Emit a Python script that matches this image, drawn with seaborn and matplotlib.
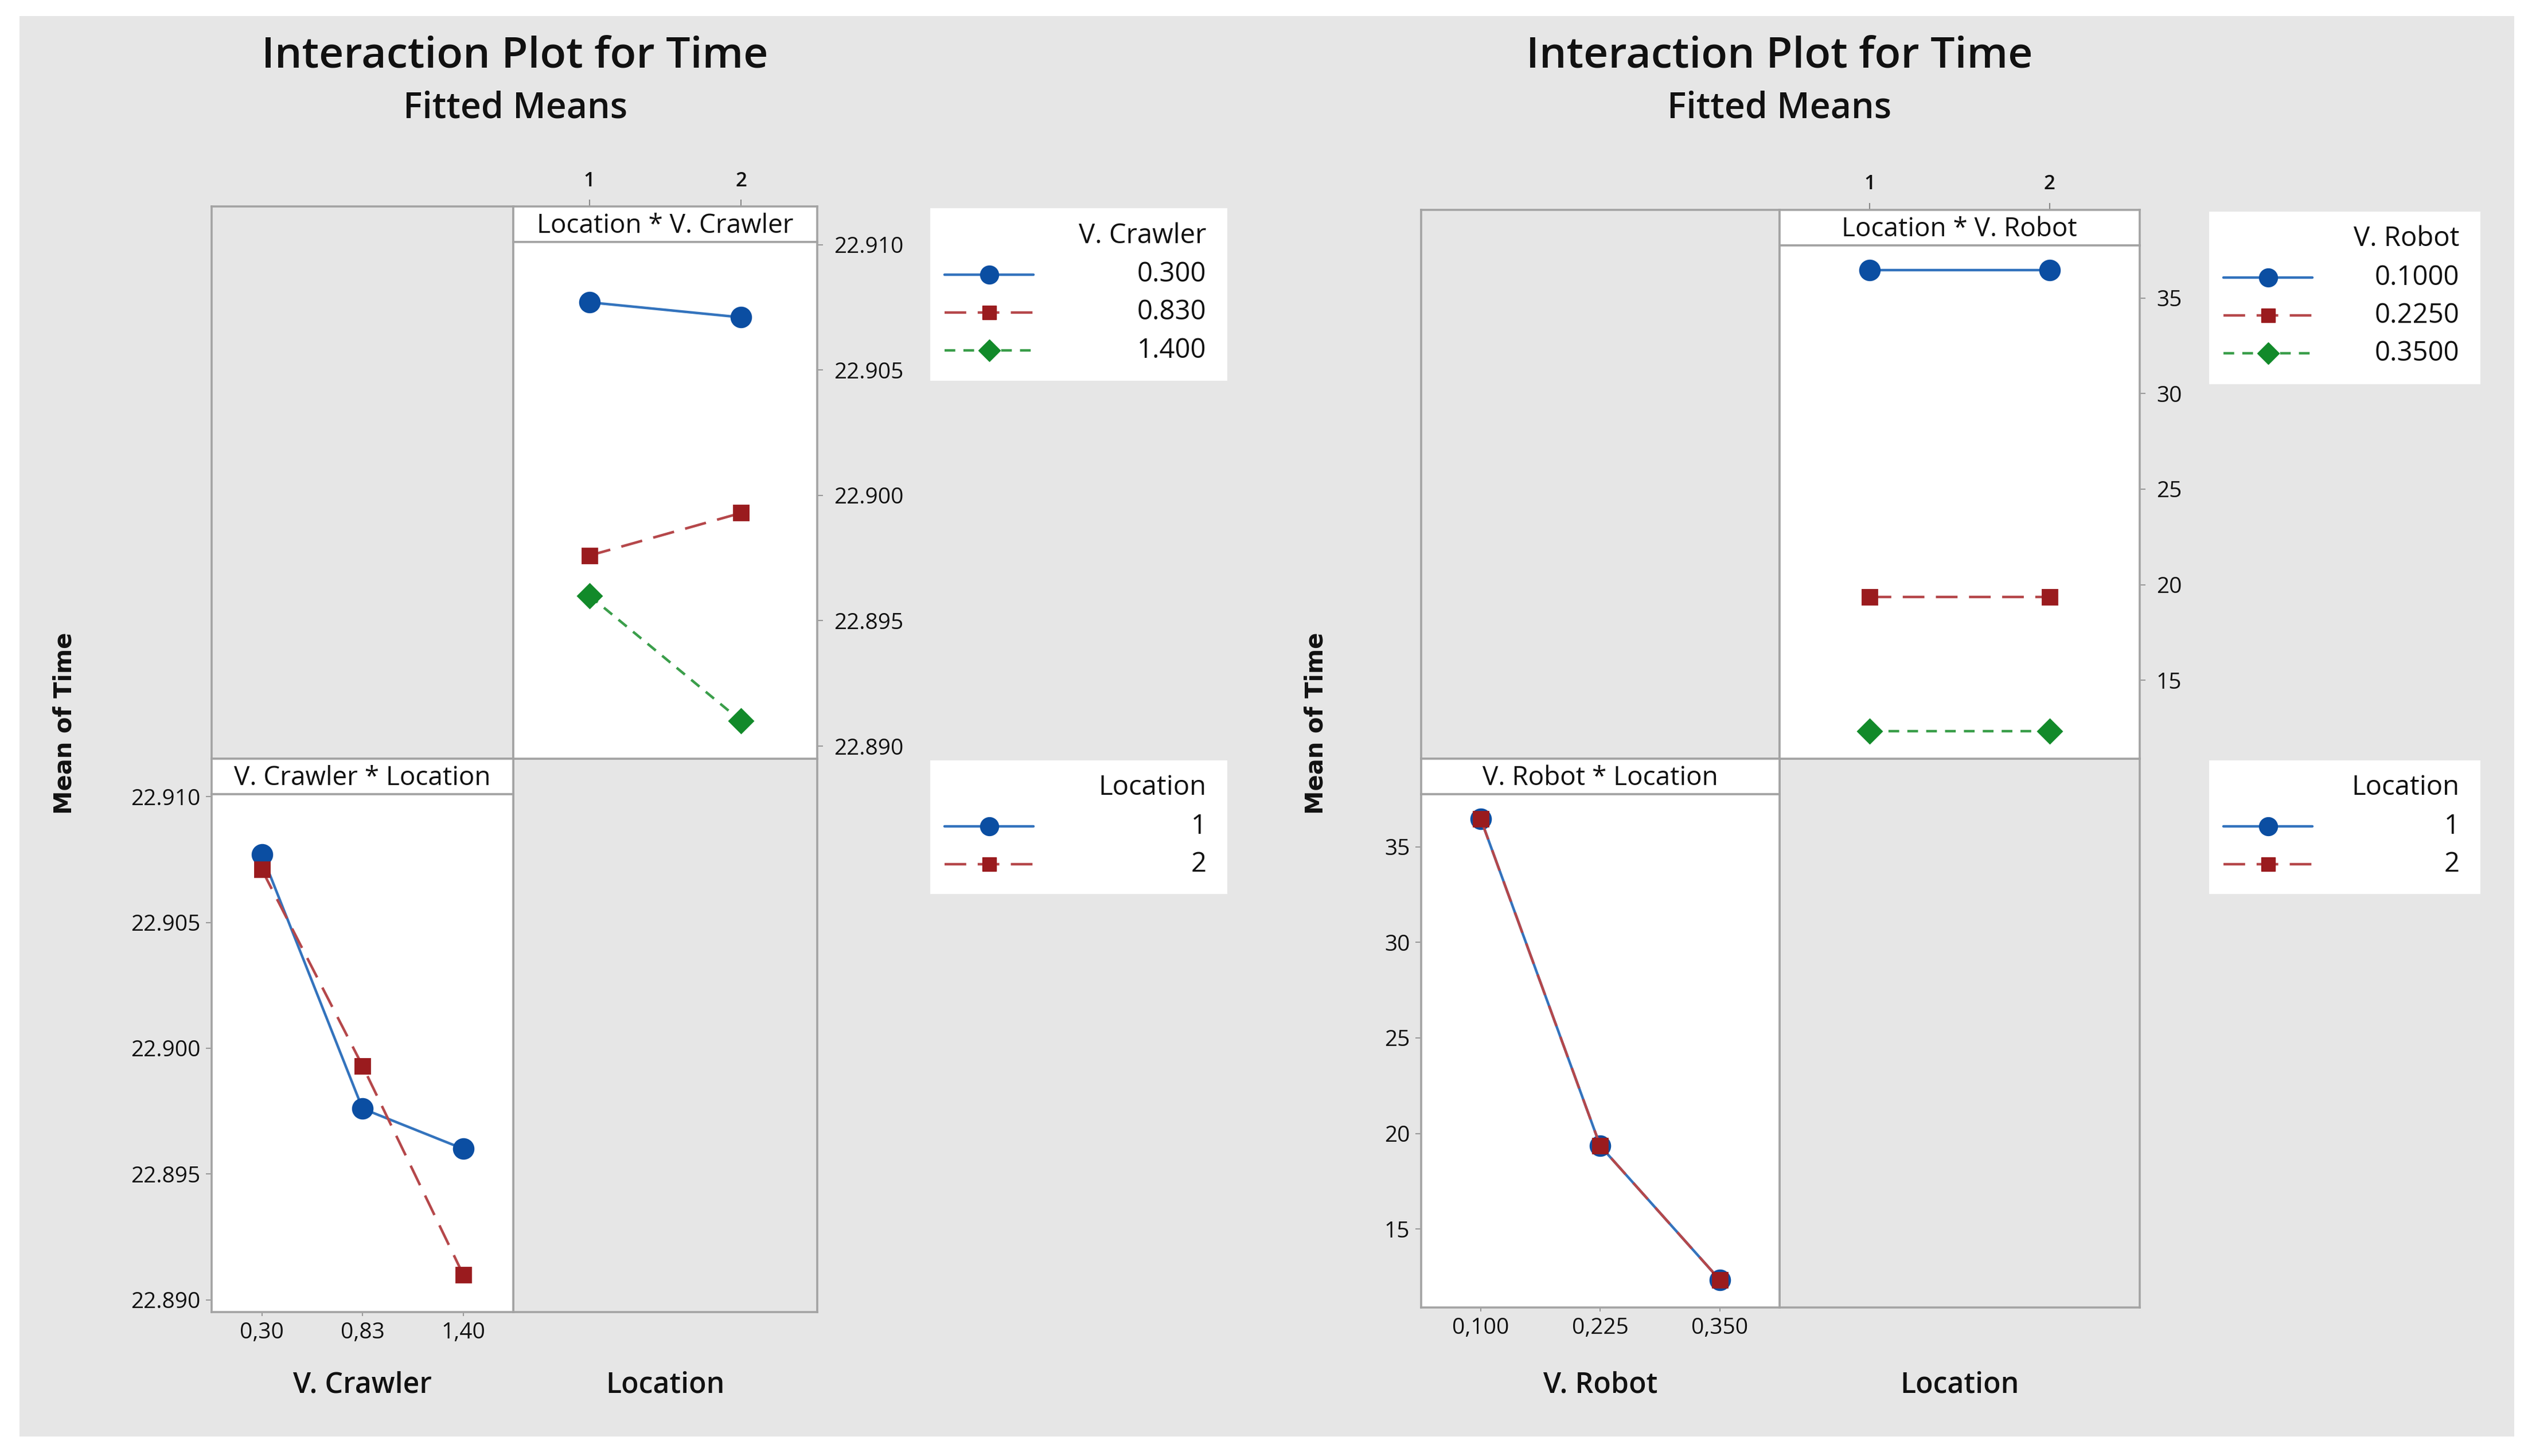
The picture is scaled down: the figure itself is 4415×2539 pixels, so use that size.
import numpy as np
import pandas as pd
import matplotlib
matplotlib.use("Agg")
import matplotlib.pyplot as plt
import seaborn as sns
from matplotlib.patches import Rectangle
from matplotlib.lines import Line2D

# ---------------- data ----------------
location_levels = ["1", "2"]

crawler_tick_labels = ["0,30", "0,83", "1,40"]
crawler_legend_labels = ["0.300", "0.830", "1.400"]
crawler_time_loc1 = [22.9077, 22.8976, 22.8960]
crawler_time_loc2 = [22.9071, 22.8993, 22.8910]
crawler_yticks = [22.890, 22.895, 22.900, 22.905, 22.910]

robot_tick_labels = ["0,100", "0,225", "0,350"]
robot_legend_labels = ["0.1000", "0.2250", "0.3500"]
robot_time_loc1 = [36.45, 19.35, 12.35]
robot_time_loc2 = [36.45, 19.35, 12.35]
robot_yticks = [15, 20, 25, 30, 35]

# ---------------- style ----------------
sns.set_theme(style="white")
plt.rcParams['font.family'] = ['Open Sans', 'DejaVu Sans']

W, H = 1568.0, 902.0
BG = '#E6E6E6'
EDGE = '#A3A3A3'
TXT = '#111111'
TITLE_FS, SUB_FS, STRIP_FS, TICK_FS, LEG_FS, AXLAB_FS, MEAN_FS = 54, 45, 33, 28, 34, 36, 30

LINE_COLORS = {'o': '#3373BD', 's': '#B5474A', 'D': '#3A9E4A'}
MARKER_COLORS = {'o': '#0B4EA2', 's': '#9A1B1E', 'D': '#128A2A'}
DASHES = {'o': None, 's': (8.5, 4.5), 'D': (4.2, 3.2)}
MSIZE = {'o': 25, 's': 19, 'D': 21}
LW = 3.2

fig = plt.figure(figsize=(44.15, 25.39), dpi=100, facecolor='white')
fig.add_artist(Rectangle((12 / W, 1 - 890 / H), (1557 - 12) / W, (890 - 10) / H,
                         transform=fig.transFigure, facecolor=BG, edgecolor='none', zorder=-10))


def rect(x0, y0, x1, y1):
    return [x0 / W, 1 - y1 / H, (x1 - x0) / W, (y1 - y0) / H]


def style_spines(ax, lw=2.6):
    for s in ax.spines.values():
        s.set_visible(True)
        s.set_color(EDGE)
        s.set_linewidth(lw)


def empty_cell(r):
    ax = fig.add_axes(r)
    ax.set_facecolor(BG)
    ax.set_xticks([])
    ax.set_yticks([])
    style_spines(ax)
    return ax


def strip(r, text, top_labels=None):
    ax = fig.add_axes(r)
    ax.set_facecolor('white')
    ax.set_yticks([])
    if top_labels is None:
        ax.set_xticks([])
    else:
        ax.set_xlim(-0.5, len(top_labels) - 0.5)
        ax.set_xticks(range(len(top_labels)))
        ax.set_xticklabels(top_labels, fontweight='semibold')
        ax.xaxis.tick_top()
        ax.tick_params(axis='x', top=True, bottom=False, length=9, width=1.5, color='#888888',
                       pad=11, labelsize=TICK_FS - 3, labelcolor=TXT)
    style_spines(ax)
    ax.text(0.5, 0.45, text, ha='center', va='center', fontsize=STRIP_FS, color=TXT,
            transform=ax.transAxes)
    return ax


def restyle(ax):
    for ln in ax.lines:
        m = ln.get_marker()
        if m not in LINE_COLORS:
            continue
        ln.set_color(LINE_COLORS[m])
        ln.set_markerfacecolor(MARKER_COLORS[m])
        ln.set_markeredgecolor(MARKER_COLORS[m])
        ln.set_markersize(MSIZE[m])
        ln.set_linewidth(LW)
        if DASHES[m] is not None:
            ln.set_dashes(DASHES[m])
        else:
            ln.set_linestyle('-')


def long_df(levels, loc1, loc2, name):
    return pd.DataFrame({
        "Location": [location_levels[0]] * len(levels) + [location_levels[1]] * len(levels),
        name: list(levels) * 2,
        "Time": list(loc1) + list(loc2),
    })


def legend_box(x0, y0, x1, y1, title, labels, markers, hx0, hx1, tx):
    ax = fig.add_axes(rect(x0, y0, x1, y1))
    ax.set_xlim(x0, x1)
    ax.set_ylim(y1, y0)
    ax.set_facecolor('white')
    ax.set_xticks([])
    ax.set_yticks([])
    for s in ax.spines.values():
        s.set_visible(False)
    ax.text(tx, y0 + 17, title, ha='right', va='center', fontsize=LEG_FS, color=TXT)
    for i, (lab, m) in enumerate(zip(labels, markers)):
        yy = y0 + 41 + 23.5 * i
        ln = Line2D([hx0, hx1], [yy, yy], color=LINE_COLORS[m], lw=LW)
        if DASHES[m] is not None:
            ln.set_dashes(DASHES[m])
        ax.add_line(ln)
        ax.plot([(hx0 + hx1) / 2], [yy], marker=m, ms=MSIZE[m] - 2, color=MARKER_COLORS[m], ls='none')
        ax.text(tx, yy, lab, ha='right', va='center', fontsize=LEG_FS, color=TXT)


def panel(box, df, factor, tick_labels, legend_labels, yticks, ylim, yfmt,
          strip_tr, strip_bl, factor_label, title_cx, legend_x, mean_x):
    x0, xm, x1, y0, ym, y1 = box
    fac_markers = ['o', 's', 'D']
    loc_markers = ['o', 's']

    empty_cell(rect(x0, y0, xm, ym))
    empty_cell(rect(xm, ym, x1, y1))

    # top-right: x = Location, hue = factor
    strip(rect(xm, y0, x1, y0 + 22), strip_tr, top_labels=location_levels)
    ax_tr = fig.add_axes(rect(xm, y0 + 22, x1, ym))
    ax_tr.set_facecolor('white')
    sns.pointplot(data=df, x="Location", y="Time", hue=factor, order=location_levels,
                  hue_order=tick_labels, palette=[LINE_COLORS[m] for m in fac_markers],
                  markers=fac_markers, linestyles=['-', '--', '--'], errorbar=None,
                  legend=False, ax=ax_tr)
    restyle(ax_tr)
    ax_tr.set_xlim(-0.5, len(location_levels) - 0.5)
    ax_tr.set_ylim(*ylim)
    ax_tr.set_yticks(yticks)
    ax_tr.set_yticklabels([yfmt.format(v) for v in yticks])
    ax_tr.yaxis.tick_right()
    ax_tr.set_xticks([])
    ax_tr.set_xlabel('')
    ax_tr.set_ylabel('')
    ax_tr.tick_params(axis='y', right=True, left=False, length=7, width=1.5, color='#999999',
                      pad=14, labelsize=TICK_FS, labelcolor=TXT)
    style_spines(ax_tr)

    # bottom-left: x = factor, hue = Location
    strip(rect(x0, ym, xm, ym + 22), strip_bl)
    ax_bl = fig.add_axes(rect(x0, ym + 22, xm, y1))
    ax_bl.set_facecolor('white')
    sns.pointplot(data=df, x=factor, y="Time", hue="Location", order=tick_labels,
                  hue_order=location_levels, palette=[LINE_COLORS[m] for m in loc_markers],
                  markers=loc_markers, linestyles=['-', '--'], errorbar=None,
                  legend=False, ax=ax_bl)
    restyle(ax_bl)
    ax_bl.set_xlim(-0.5, len(tick_labels) - 0.5)
    ax_bl.set_ylim(*ylim)
    ax_bl.set_yticks(yticks)
    ax_bl.set_yticklabels([yfmt.format(v) for v in yticks])
    ax_bl.set_xlabel('')
    ax_bl.set_ylabel('')
    ax_bl.tick_params(axis='x', bottom=True, length=5, width=1.5, color='#999999', pad=7,
                      labelsize=TICK_FS, labelcolor=TXT)
    ax_bl.tick_params(axis='y', left=True, length=7, width=1.5, color='#999999', pad=7,
                      labelsize=TICK_FS, labelcolor=TXT)
    style_spines(ax_bl)

    # titles
    fig.text(title_cx / W, 1 - 35 / H, "Interaction Plot for Time", ha='center', va='center',
             fontsize=TITLE_FS, fontweight='semibold', color=TXT)
    fig.text(title_cx / W, 1 - 67 / H, "Fitted Means", ha='center', va='center',
             fontsize=SUB_FS, fontweight='semibold', color=TXT)

    # axis labels
    fig.text(((x0 + xm) / 2) / W, 1 - 858 / H, factor_label, ha='center', va='center',
             fontsize=AXLAB_FS, fontweight='semibold', color=TXT)
    fig.text(((xm + x1) / 2) / W, 1 - 858 / H, "Location", ha='center', va='center',
             fontsize=AXLAB_FS, fontweight='semibold', color=TXT)
    fig.text(mean_x / W, 1 - 448 / H, "Mean of Time", ha='center', va='center', rotation=90,
             fontsize=MEAN_FS, fontweight='bold', family='DejaVu Sans', color=TXT)

    # legends
    lx0, lx1 = legend_x
    legend_box(lx0, y0 + 1, lx1, y0 + 108, factor_label, legend_labels, fac_markers,
               lx0 + 9, lx0 + 64, lx1 - 13)
    legend_box(lx0, 471, lx1, 554, "Location", location_levels, loc_markers,
               lx0 + 9, lx0 + 64, lx1 - 13)


crawler_df = long_df(crawler_tick_labels, crawler_time_loc1, crawler_time_loc2, "V. Crawler")
robot_df = long_df(robot_tick_labels, robot_time_loc1, robot_time_loc2, "V. Robot")

panel((131, 318, 506, 128, 470, 813), crawler_df, "V. Crawler", crawler_tick_labels,
      crawler_legend_labels, crawler_yticks, (22.8895, 22.9101), "{:.3f}",
      "Location * V. Crawler", "V. Crawler * Location", "V. Crawler", 319, (576, 760), 40)

panel((880, 1102, 1325, 130, 470, 810), robot_df, "V. Robot", robot_tick_labels,
      robot_legend_labels, robot_yticks, (10.9, 37.75), "{:d}",
      "Location * V. Robot", "V. Robot * Location", "V. Robot", 1102, (1368, 1536), 815)

fig.savefig("out.png", dpi=100, facecolor='white')
